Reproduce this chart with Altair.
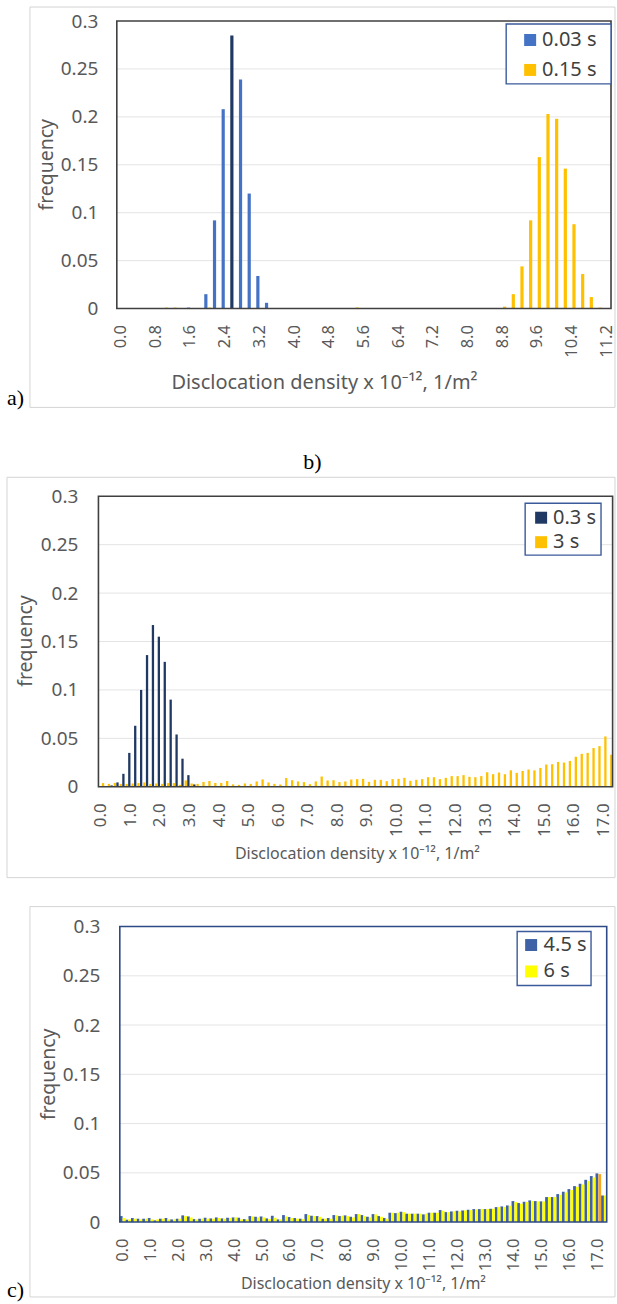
import altair as alt
import pandas as pd

FONT = "Noto Sans"
SERIF = "Liberation Serif"
GRAY = "#595959"

# ---------------- data ----------------
cats_a = [f"{i * 0.2:.1f}" for i in range(57)]      # 0.0 ... 11.2
cats_bc = [f"{i * 0.2:.1f}" for i in range(87)]     # 0.0 ... 17.2
ticks_a = ["0.0", "0.8", "1.6", "2.4", "3.2", "4.0", "4.8", "5.6", "6.4", "7.2",
           "8.0", "8.8", "9.6", "10.4", "11.2"]
ticks_bc = ["0.0", "1.0", "2.0", "3.0", "4.0", "5.0", "6.0", "7.0", "8.0", "9.0",
            "10.0", "11.0", "12.0", "13.0", "14.0", "15.0", "16.0", "17.0"]
y_ticks = [0, 0.05, 0.1, 0.15, 0.2, 0.25, 0.3]
grid_vals = [0.05, 0.1, 0.15, 0.2, 0.25]

# panel a
a_003 = [0, 0, 0, 0, 0, 0, 0, 0, 0.001, 0,
         0.015, 0.092, 0.208, 0.285, 0.239, 0.120, 0.034, 0.006, 0, 0,
         0, 0, 0, 0, 0, 0, 0, 0, 0, 0,
         0, 0, 0, 0, 0, 0, 0, 0, 0, 0,
         0, 0, 0, 0, 0, 0, 0, 0, 0, 0,
         0, 0, 0, 0, 0, 0, 0]
a_015 = [0, 0, 0, 0, 0, 0.001, 0.001, 0, 0, 0,
         0.001, 0, 0, 0, 0, 0, 0, 0, 0, 0,
         0, 0, 0, 0, 0, 0, 0, 0.001, 0, 0,
         0, 0, 0, 0, 0, 0, 0, 0, 0, 0,
         0, 0, 0, 0, 0.002, 0.015, 0.044, 0.092, 0.158, 0.203,
         0.198, 0.146, 0.088, 0.036, 0.012, 0.001, 0]

# panel b
b_03 = [0, 0, 0.0014, 0.0045, 0.0134, 0.035, 0.063, 0.100, 0.136, 0.167,
        0.155, 0.129, 0.090, 0.054, 0.029, 0.012, 0.0024, 0.0005, 0, 0,
        0, 0, 0, 0, 0, 0, 0, 0, 0, 0,
        0, 0, 0, 0, 0, 0, 0, 0, 0, 0,
        0, 0, 0, 0, 0, 0, 0, 0, 0, 0,
        0, 0, 0, 0, 0, 0, 0, 0, 0, 0,
        0, 0, 0, 0, 0, 0, 0, 0, 0, 0,
        0, 0, 0, 0, 0, 0, 0, 0, 0, 0,
        0, 0, 0, 0, 0, 0, 0]
b_3 = [0.0038, 0.003, 0.004, 0.003, 0.003, 0.0034, 0.0038, 0.0045, 0.003, 0.0034,
       0.003, 0.0038, 0.0038, 0.002, 0.0066, 0.0034, 0.003, 0.005, 0.006, 0.004,
       0.004, 0.006, 0.0025, 0.002, 0.0034, 0.003, 0.0055, 0.0076, 0.0045, 0.003,
       0.0024, 0.009, 0.0068, 0.0055, 0.0048, 0.0027, 0.0055, 0.0106, 0.0065, 0.0068,
       0.0048, 0.0055, 0.0075, 0.0079, 0.0082, 0.0051, 0.0072, 0.0072, 0.0058, 0.0079,
       0.0082, 0.0092, 0.0062, 0.0072, 0.0079, 0.0099, 0.0099, 0.0079, 0.0092, 0.011,
       0.011, 0.012, 0.0103, 0.0099, 0.011, 0.015, 0.013, 0.0147, 0.013, 0.017,
       0.0144, 0.0164, 0.0178, 0.017, 0.0195, 0.023, 0.0233, 0.0257, 0.025, 0.0267,
       0.031, 0.034, 0.035, 0.040, 0.042, 0.052, 0.033]

# panel c
c_45 = [0.0061, 0.0024, 0.0041, 0.0034, 0.0034, 0.0041, 0.0017, 0.0034, 0.0041, 0.0027,
        0.0034, 0.0068, 0.0057, 0.003, 0.0034, 0.0044, 0.0037, 0.0047, 0.0037, 0.0044,
        0.0047, 0.0044, 0.003, 0.0061, 0.0054, 0.0057, 0.0037, 0.0064, 0.0027, 0.0071,
        0.0051, 0.0041, 0.0034, 0.0081, 0.0064, 0.0061, 0.0034, 0.0041, 0.0071, 0.0061,
        0.0068, 0.0054, 0.0081, 0.0071, 0.0054, 0.0081, 0.0061, 0.0041, 0.0095, 0.0091,
        0.0105, 0.0085, 0.0085, 0.0085, 0.0078, 0.0095, 0.0095, 0.0122, 0.0101, 0.0108,
        0.0115, 0.0118, 0.0125, 0.0132, 0.0132, 0.0132, 0.0135, 0.0152, 0.0159, 0.0169,
        0.0213, 0.0193, 0.0206, 0.022, 0.0213, 0.021, 0.0254, 0.0254, 0.0284, 0.0308,
        0.0335, 0.0365, 0.0389, 0.0429, 0.0467, 0.0494, 0.027]
c_6 = [0.0041, 0.0027, 0.0034, 0.0027, 0.0034, 0.0027, 0.0027, 0.0034, 0.0027, 0.0027,
       0.0034, 0.0061, 0.0047, 0.0027, 0.0034, 0.0034, 0.0034, 0.0041, 0.0034, 0.0041,
       0.0047, 0.0027, 0.0027, 0.0057, 0.0047, 0.0047, 0.003, 0.0044, 0.0027, 0.0057,
       0.0041, 0.0034, 0.003, 0.0071, 0.0061, 0.0054, 0.0034, 0.0034, 0.0068, 0.0064,
       0.0061, 0.0047, 0.0081, 0.0061, 0.0047, 0.0078, 0.0054, 0.0034, 0.0095, 0.0095,
       0.0101, 0.0085, 0.0085, 0.0085, 0.0085, 0.0095, 0.0095, 0.0115, 0.0101, 0.0108,
       0.0108, 0.0118, 0.0122, 0.0128, 0.0132, 0.0132, 0.0135, 0.0152, 0.0152, 0.0166,
       0.0203, 0.0186, 0.0203, 0.0213, 0.021, 0.021, 0.0254, 0.0254, 0.0277, 0.0301,
       0.0325, 0.0358, 0.0382, 0.0416, 0.0453, 0.0487, 0.027]

XTITLE = "Disclocation density x 10\u207b\u00b9\u00b2, 1/m\u00b2"
one = pd.DataFrame({"k": [0]})


def rect(x, x2, y, y2, **kw):
    return alt.Chart(one).mark_rect(**kw).encode(
        x=alt.value(x), x2=alt.value(x2), y=alt.value(y), y2=alt.value(y2))


def text(s, x, y, size, color=GRAY, font=FONT, align="center", angle=0):
    return alt.Chart(one).mark_text(
        text=s, fontSize=size, font=font, color=color, align=align,
        baseline="middle", angle=angle).encode(x=alt.value(x), y=alt.value(y))


def panel(cats, ticks, names, values, colors, hl_series, hl_color, height,
          xrange, off_pi, off_po, barw, ylabpad, xlabsize, box_color, frame, bound,
          letter, ytitle, xtitle, xtitle_size, leg_box, leg_sq, leg_tx, leg_dy):
    rows = []
    for n, vals in zip(names, values):
        for c, v in zip(cats, vals):
            rows.append({"cat": c, "series": n, "freq": v})
    df = pd.DataFrame(rows)
    yscale = alt.Scale(domain=[0, 0.3], nice=False)
    yaxis = alt.Axis(values=y_ticks, format=".2~f", labelPadding=ylabpad,
                     labelFontSize=19, labelFont=FONT, labelColor=GRAY,
                     ticks=False, domain=False, grid=False, title=None)

    bars = alt.Chart(df).transform_filter("datum.freq > 0").transform_joinaggregate(
        mx="max(freq)", groupby=["series"]
    ).transform_calculate(
        ckey=f"datum.series == '{hl_series}' && datum.freq == datum.mx ? 'hl' : datum.series"
    ).mark_bar(width=barw).encode(
        x=alt.X("cat:N", scale=alt.Scale(domain=cats, range=xrange,
                                         paddingInner=0, paddingOuter=0),
                axis=alt.Axis(values=ticks, labelAngle=270, labelAlign="right",
                              labelBaseline="middle", labelPadding=16,
                              labelFontSize=xlabsize, labelFont=FONT,
                              labelColor=GRAY, ticks=False, domain=False,
                              grid=False, title=None, labelOverlap=False,
                              labelFlush=False)),
        xOffset=alt.XOffset("series:N", scale=alt.Scale(domain=names,
                                                         paddingInner=off_pi,
                                                         paddingOuter=off_po)),
        y=alt.Y("freq:Q", scale=yscale, axis=yaxis),
        color=alt.Color("ckey:N", scale=alt.Scale(domain=names + ["hl"],
                                                  range=colors + [hl_color]),
                        legend=None),
    )

    grid = alt.Chart(pd.DataFrame({"g": grid_vals})).mark_rule(
        color="#E4E4E4", strokeWidth=1).encode(
        y=alt.Y("g:Q", scale=yscale, axis=yaxis),
        x=alt.value(xrange[0]), x2=alt.value(xrange[1]))

    layers = [
        rect(*bound, opacity=0),
        rect(*frame, fillOpacity=0, stroke="#D4D4D4", strokeWidth=1),
        grid,
        bars,
        rect(xrange[0], xrange[1], 0, height, fillOpacity=0, stroke=box_color,
             strokeWidth=1.6),
        rect(*leg_box, fill="white", stroke="#3B5A9A", strokeWidth=1.4),
    ]
    sx, sy = leg_sq
    for k, (n, col) in enumerate(zip(names, colors)):
        layers.append(rect(sx - 6, sx + 6, sy + k * leg_dy - 6, sy + k * leg_dy + 6,
                           fill=col))
        layers.append(text(n, leg_tx, sy + k * leg_dy, 20, color="#404040",
                           align="left"))
    lt, lx, ly, lalign = letter
    layers.append(text(lt, lx, ly, 22, color="black", font=SERIF, align=lalign))
    layers.append(text("frequency", ytitle[0], ytitle[1], 19.5, angle=270))
    layers.append(text(XTITLE, xtitle[0], xtitle[1], xtitle_size))
    return alt.layer(*layers).properties(width=514, height=height)


pa = panel(cats_a, ticks_a, ["0.03 s", "0.15 s"], [a_003, a_015],
           ["#4472C4", "#FFC000"], "0.03 s", "#1F3864", 288,
           [16, 511], 0.25, 0.21, 3.2, 3, 16.5, "#404040",
           (-71, 515, -14, 387), (-96, 515, -16, 407),
           ("a)", -94, 378, "left"), (-54, 144), (224, 363), 20,
           (406, 511, 3, 63), (430, 19), 442, 30)

pb = panel(cats_bc, ticks_bc, ["0.3 s", "3 s"], [b_03, b_3],
           ["#1F3864", "#FFC000"], "none", "#1F3864", 291,
           [-2.4, 512.6], 0.3, 0.05, 2.3, 23, 17, "#404040",
           (-94, 515, -19, 382), (-96, 515, -69, 396),
           ("b)", 212, -34, "center"), (-75, 145), (257, 358), 16,
           (425, 501, 7, 59), (441, 21.5), 453, 24.5)

pc = panel(cats_bc, ticks_bc, ["4.5 s", "6 s"], [c_45, c_6],
           ["#3F62A6", "#FFFF00"], "6 s", "#F5A623", 296,
           [19, 506.7], 0.05, 0.0, 2.8, 1, 16.5, "#2E4A86",
           (-71, 515, -20, 371), (-96, 515, -35, 377),
           ("c)", -94, 364, "left"), (-52, 148), (263, 358), 16,
           (417, 491, 5, 59), (431, 18.5), 443.5, 26.5)

chart = alt.vconcat(pa, pb, pc, spacing=0).resolve_scale(
    color="independent", xOffset="independent", x="independent", y="independent"
).properties(
    padding={"left": 5, "top": 4, "right": 1, "bottom": 0},
    background="white",
).configure_view(stroke=None)

chart.save("out.html", embed_options={"renderer": "svg", "actions": False})
